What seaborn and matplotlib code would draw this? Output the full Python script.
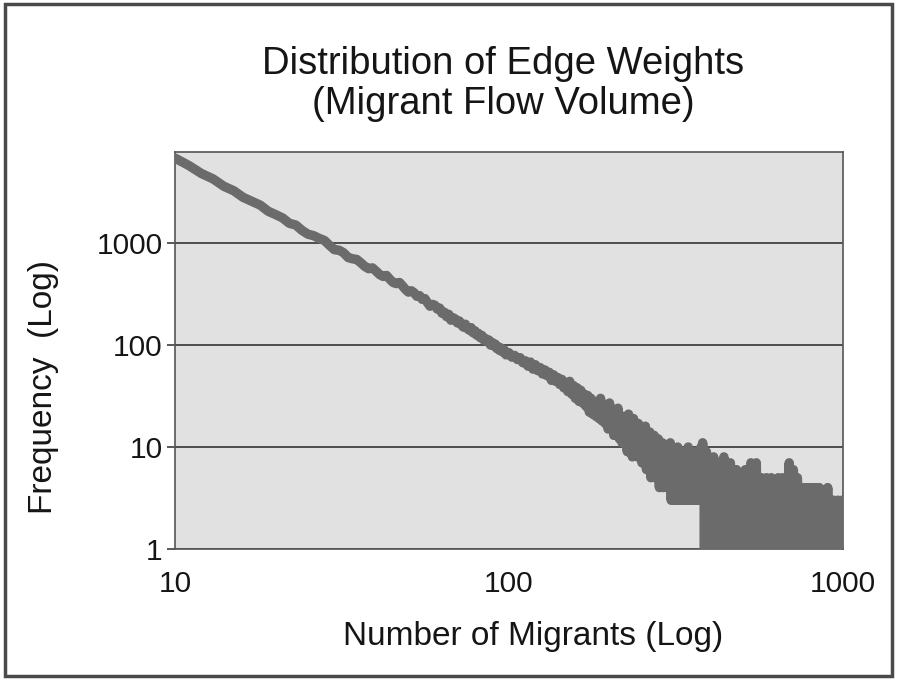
import numpy as np
import pandas as pd
import matplotlib
matplotlib.use("Agg")
import matplotlib.pyplot as plt
from matplotlib.ticker import NullLocator, FixedLocator, FixedFormatter
from matplotlib.patches import Rectangle
import seaborn as sns

# ---------------- data ----------------
# Number of migrants on an edge (x) and how many edges have that weight (y)
x_head = list(range(10, 100))           # 10 .. 99, every value
y_head = [6800, 5750, 4800, 4250, 3600, 3250, 2800, 2560, 2350, 2050,
          1900, 1760, 1560, 1500, 1330, 1220, 1180, 1110, 1060, 950,
          860, 850, 800, 720, 700, 690, 640, 590, 560, 570,
          530, 490, 470, 480, 440, 410, 400, 410, 380, 350,
          330, 340, 325, 300, 305, 280, 285, 260, 240, 250,
          245, 225, 230, 205, 210, 190, 200, 175, 185, 180,
          165, 172, 158, 150, 160, 145, 140, 148, 132, 138,
          125, 130, 118, 124, 112, 116, 108, 112, 100, 106,
          98, 102, 92, 96, 88, 93, 85, 89, 80, 84]

x_mid = list(range(100, 385, 2))        # 100 .. 384
y_mid = [84, 76, 79, 72, 75, 67, 70, 62, 68, 58, 64, 56, 60, 52, 57, 50, 54,
         45, 51, 44, 48, 41, 46, 38, 43,
         35, 44, 33, 40, 30, 38, 28, 36, 27, 33, 25, 32, 22, 30, 21, 28, 20,
         27, 19,
         30, 18, 26, 17, 24, 15, 27, 16, 22, 13, 21, 14, 24, 12, 19, 11, 20,
         12, 18, 9, 21, 10, 16, 8,
         19, 10, 15, 8, 17, 9, 14, 7, 13, 9, 16, 6, 12, 8, 14, 5, 11, 7, 13,
         5, 10, 6, 12, 4, 9, 6, 11, 4, 8, 5, 10,
         4, 9, 5, 11, 3, 8, 5, 9, 3, 7, 4, 10, 3, 8, 5, 9, 3, 6, 4, 8,
         3, 7, 5, 10, 3, 6, 4, 8, 3, 7, 4, 9, 3, 6, 4, 8, 3, 7, 4, 10,
         3, 11, 4, 8]

x_tail = list(range(385, 1001, 5))      # 385 .. 1000
y_tail = [0, 9, 1, 6, 0, 8, 2, 7, 0, 6,
          1, 8, 0, 6, 2, 7, 0, 5, 1, 6,
          0, 5, 2, 4, 0, 6, 1, 4, 0, 7,
          2, 6, 0, 7, 1, 4, 0, 5, 2, 3,
          0, 5, 1, 4, 0, 5, 2, 3, 0, 4,
          1, 5, 0, 3, 2, 5, 0, 4, 1, 5,
          0, 7, 1, 5, 0, 6, 2, 4, 0, 5,
          1, 3, 0, 4, 2, 4, 0, 3, 1, 4,
          0, 4, 2, 3, 0, 4, 1, 2, 0, 4,
          2, 3, 0, 4, 1, 3, 0, 2, 2, 3,
          0, 3, 1, 4, 0, 3, 2, 2, 0, 3,
          1, 3, 0, 2, 2, 3, 0, 3, 1, 2,
          0, 3, 2, 3]

y_ticks = [1, 10, 100, 1000]
y_tick_labels = ["1", "10", "100", "1000"]
x_ticks = [10, 100, 1000]
x_tick_labels = ["10", "100", "1000"]

title_text = "Distribution of Edge Weights\n(Migrant Flow Volume)"
x_label = "Number of Migrants (Log)"
y_label = "Frequency  (Log)"

assert len(x_head) == len(y_head)
assert len(x_mid) == len(y_mid)
assert len(x_tail) == len(y_tail)

df = pd.DataFrame({"migrants": x_head + x_mid + x_tail,
                   "frequency": y_head + y_mid + y_tail})

# ---------------- figure ----------------
sns.set_theme(style="white")
plt.rcParams["font.family"] = ["Liberation Sans", "DejaVu Sans"]

W, H = 897, 680
fig = plt.figure(figsize=(W / 100, H / 100), dpi=100)
fig.patch.set_facecolor("white")

L, R, T, B = 175, 843, 152, 549
ax = fig.add_axes([L / W, 1 - B / H, (R - L) / W, (B - T) / H])
ax.set_facecolor("#e1e1e1")

sns.lineplot(data=df, x="migrants", y="frequency", ax=ax, estimator=None,
             sort=True, color="#6b6b6b", linewidth=6.8,
             solid_joinstyle="round", solid_capstyle="round", zorder=3)

ax.set_xscale("log")
ax.set_yscale("log")
ax.set_xlim(10, 1000)
ax.set_ylim(1, 7800)

ax.xaxis.set_major_locator(FixedLocator(x_ticks))
ax.xaxis.set_major_formatter(FixedFormatter(x_tick_labels))
ax.yaxis.set_major_locator(FixedLocator(y_ticks))
ax.yaxis.set_major_formatter(FixedFormatter(y_tick_labels))
ax.xaxis.set_minor_locator(NullLocator())
ax.yaxis.set_minor_locator(NullLocator())

ax.set_xlabel("")
ax.set_ylabel("")

ax.grid(False)
ax.yaxis.grid(True, which="major", color="#353535", linewidth=1.2, zorder=1)
ax.set_axisbelow(True)

for s in ax.spines.values():
    s.set_visible(True)
    s.set_color("#555555")
    s.set_linewidth(1.2)

ax.tick_params(axis="y", which="major", direction="out", length=6,
               width=1.2, color="#3c3c3c", pad=3, labelsize=21.5,
               labelcolor="#151515", left=True)
ax.tick_params(axis="x", which="major", length=0, pad=15,
               labelsize=21.5, labelcolor="#151515", bottom=True)

fig.text(503 / W, 1 - 84 / H, title_text, ha="center", va="center",
         fontsize=27.5, linespacing=1.12, color="#151515")
fig.text(533 / W, 1 - 637 / H, x_label, ha="center", va="center",
         fontsize=24, color="#151515")
fig.text(44 / W, 1 - 387 / H, y_label, ha="center", va="center",
         rotation=90, fontsize=24, color="#151515")

fig.patches.append(Rectangle((5 / W, 4 / H), 887 / W, 672 / H,
                             transform=fig.transFigure, fill=False,
                             edgecolor="#4a4a4a", linewidth=2.5))

fig.savefig("out.png", dpi=100, facecolor="white")
